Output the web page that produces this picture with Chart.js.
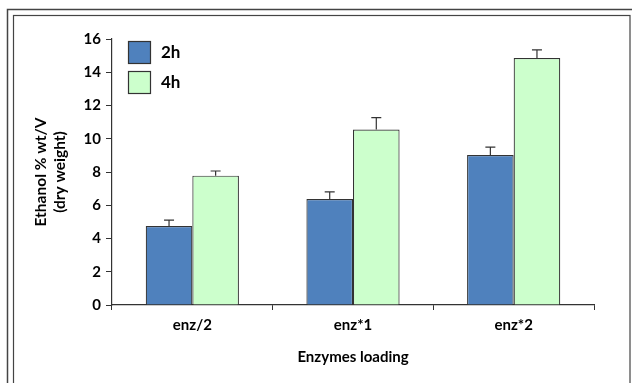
<!DOCTYPE html>
<html>
<head>
<meta charset="utf-8">
<script src="https://cdn.jsdelivr.net/npm/chart.js@4/dist/chart.umd.min.js"></script>
<style>
  body { margin: 0; background: #fff; }
  canvas { display: block; }
</style>
</head>
<body>
<canvas id="chart" width="632" height="383"></canvas>
<script>
const categories = ['enz/2', 'enz*1', 'enz*2'];
const seriesNames = ['2h', '4h'];
const values2h = [4.75, 6.38, 9.02];
const values4h = [7.78, 10.55, 14.86];
const errors2h = [0.35, 0.42, 0.48];
const errors4h = [0.28, 0.72, 0.48];
const yTicks = [0, 2, 4, 6, 8, 10, 12, 14, 16];

const FONT = 'Lato, "DejaVu Sans", sans-serif';
const INK = '#333';

// double frame round the figure
const framePlugin = {
  id: 'frame',
  beforeDraw(chart) {
    const ctx = chart.ctx;
    ctx.save();
    ctx.fillStyle = '#fff';
    ctx.fillRect(0, 0, chart.width, chart.height);
    ctx.strokeStyle = '#444';
    ctx.lineWidth = 1.5;
    ctx.strokeRect(7.5, 9.5, 700, 500);
    ctx.lineWidth = 1.2;
    ctx.strokeRect(13.5, 15.5, 616.5, 500);
    ctx.restore();
  }
};

// upward error bars only
const errorPlugin = {
  id: 'errors',
  afterDatasetsDraw(chart) {
    const ctx = chart.ctx;
    const y = chart.scales.y;
    ctx.save();
    ctx.strokeStyle = INK;
    ctx.lineWidth = 1.2;
    chart.data.datasets.forEach((ds, i) => {
      chart.getDatasetMeta(i).data.forEach((bar, j) => {
        const top = y.getPixelForValue(ds.data[j] + ds.errors[j]);
        ctx.beginPath();
        ctx.moveTo(bar.x, bar.y);
        ctx.lineTo(bar.x, top);
        ctx.moveTo(bar.x - 5, top);
        ctx.lineTo(bar.x + 5, top);
        ctx.stroke();
      });
    });
    ctx.restore();
  }
};

// legend boxes inside the plot, top left
const legendPlugin = {
  id: 'insideLegend',
  afterDraw(chart) {
    const ctx = chart.ctx;
    const x0 = chart.chartArea.left + 16;
    let y0 = chart.chartArea.top + 2;
    ctx.save();
    ctx.font = 'bold 17px ' + FONT;
    ctx.textBaseline = 'middle';
    chart.data.datasets.forEach(ds => {
      ctx.fillStyle = ds.backgroundColor;
      ctx.fillRect(x0, y0, 22, 22);
      ctx.strokeStyle = INK;
      ctx.lineWidth = 1.2;
      ctx.strokeRect(x0 + 0.5, y0 + 0.5, 22, 22);
      ctx.fillStyle = '#000';
      ctx.fillText(ds.label, x0 + 33, y0 + 12);
      y0 += 30;
    });
    ctx.restore();
  }
};

new Chart(document.getElementById('chart'), {
  type: 'bar',
  data: {
    labels: categories,
    datasets: [
      {
        label: seriesNames[0],
        data: values2h,
        errors: errors2h,
        backgroundColor: '#4f81bd',
        borderColor: INK,
        borderWidth: 1.2
      },
      {
        label: seriesNames[1],
        data: values4h,
        errors: errors4h,
        backgroundColor: '#ccffcc',
        borderColor: INK,
        borderWidth: 1.2
      }
    ]
  },
  options: {
    responsive: false,
    animation: false,
    layout: { padding: { left: 0, right: 38, top: 39, bottom: 0 } },
    datasets: { bar: { categoryPercentage: 0.58, barPercentage: 1.0 } },
    plugins: {
      legend: { display: false },
      tooltip: { enabled: false }
    },
    scales: {
      x: {
        grid: { offset: true, drawOnChartArea: false, tickLength: 5, color: INK },
        border: { color: INK, width: 1.2 },
        ticks: { color: '#000', font: { family: FONT, size: 15, weight: 'bold' }, padding: 6 },
        title: {
          display: true,
          text: 'Enzymes loading',
          color: '#000',
          font: { family: FONT, size: 15, weight: 'bold' },
          padding: { top: 4, bottom: 17 }
        },
        afterFit(scale) { scale.height = 78; }
      },
      y: {
        min: 0,
        max: 16,
        afterBuildTicks(scale) { scale.ticks = yTicks.map(v => ({ value: v })); },
        grid: { drawOnChartArea: false, tickLength: 6, color: INK },
        border: { color: INK, width: 1.2 },
        ticks: { color: '#000', font: { family: FONT, size: 15, weight: 'bold' }, padding: 5 },
        title: {
          display: true,
          text: ['Ethanol % wt/V', '(dry weight)'],
          color: '#000',
          font: { family: FONT, size: 15.5, weight: 'bold', lineHeight: 1.2 },
          padding: { top: 32, bottom: 0 }
        },
        afterFit(scale) { scale.width = 112; }
      }
    }
  },
  plugins: [framePlugin, errorPlugin, legendPlugin]
});
</script>
</body>
</html>
